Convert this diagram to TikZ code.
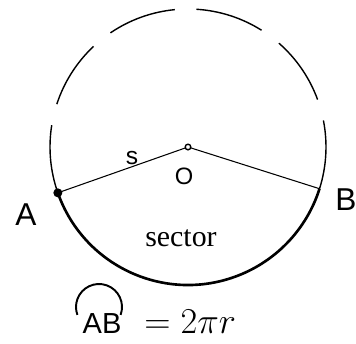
\documentclass[tikz,border=0pt]{standalone}
\usepackage{amsmath}
\usepackage{fontspec}
\usepackage{tikz}
\usetikzlibrary{positioning,calc}
\newfontfamily\lblfont{Liberation Sans}
\newfontfamily\secfont{Liberation Serif}

\begin{document}
\begin{tikzpicture}[x=0.02cm, y=0.02cm]
    \useasboundingbox (0,0) rectangle (356,343);
    % Centre and end points of the arc
    \coordinate (O) at (188,196);
    \coordinate (A) at ($(O)+(199.4:138)$);
    \coordinate (B) at ($(O)+(-17.6:138)$);

    % Upper part of the circle, broken
    \foreach \s in {-17.6,20.1,...,171} {
      \draw[line width=0.8pt] ($(O)+(\s:138)$) arc[start angle=\s, delta angle=28.7, radius=138];
    }
    % Arc AB
    \draw[line width=1.5pt] (A) arc[start angle=199.4, end angle=342.4, radius=138];
    % Radii
    \draw[line width=0.6pt] (A) -- (O) -- (B);
    \fill (A) circle[radius=4.5];
    \draw[line width=0.8pt, fill=white] (O) circle[radius=2.8];

    \node[font=\lblfont\fontsize{18}{20}\selectfont] (lbl-A) at (26,128) {A};
    \node[font=\lblfont\fontsize{18}{20}\selectfont] (lbl-B) at (346,143) {B};
    \node[font=\lblfont\fontsize{14}{16}\selectfont] (lbl-s) at (132,185) {s};
    \node[font=\lblfont\fontsize{13.5}{15}\selectfont] (lbl-O) at (184,167) {O};
    \node[font=\secfont\fontsize{17}{19}\selectfont] (lbl-sector) at (181,105) {sector};

    % Arc length formula
    \node[font=\lblfont\fontsize{16.5}{18}\selectfont, anchor=base, inner sep=0pt] (ab) at (102,10) {AB};
    \draw[line width=1.1pt] ($(99,36)+(-20:23)$) arc[start angle=-20, end angle=200, radius=23];
    \node[font=\fontsize{19.5}{21}\selectfont, anchor=base west, inner sep=0pt] (eq) at (144,10) {$=2\pi r$};
  \end{tikzpicture}
\end{document}
